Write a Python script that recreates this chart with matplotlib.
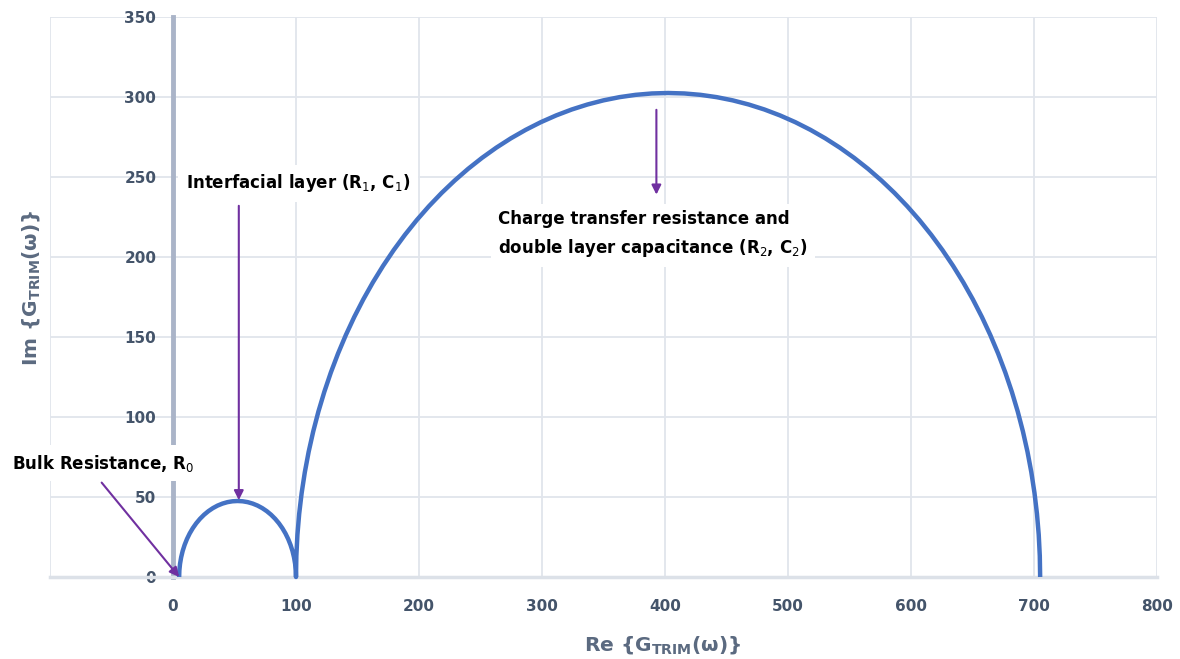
import matplotlib
matplotlib.use("Agg")
import matplotlib.pyplot as plt

# ---- data ----
# small arc (interfacial layer)
arc1_x = [5.0, 5.18, 5.72, 6.62, 7.86, 9.45, 11.36, 13.59, 16.11, 18.91,
          21.97, 25.25, 28.75, 32.43, 36.25, 40.21, 44.25, 48.36, 52.5,
          56.64, 60.75, 64.79, 68.75, 72.57, 76.25, 79.75, 83.03, 86.09,
          88.89, 91.41, 93.64, 95.55, 97.14, 98.38, 99.28, 99.82, 100.0]
arc1_y = [0.0, 4.14, 8.25, 12.29, 16.25, 20.07, 23.75, 27.25, 30.53, 33.59,
          36.39, 38.91, 41.14, 43.05, 44.64, 45.88, 46.78, 47.32, 47.5,
          47.32, 46.78, 45.88, 44.64, 43.05, 41.14, 38.91, 36.39, 33.59,
          30.53, 27.25, 23.75, 20.07, 16.25, 12.29, 8.25, 4.14, 0.0]
# large arc (charge transfer / double layer)
arc2_x = [100.0, 100.29, 101.15, 102.59, 104.60, 107.17, 110.30, 114.00,
          118.24, 123.03, 128.34, 134.18, 140.53, 147.37, 154.71, 162.51,
          170.77, 179.47, 188.60, 198.13, 208.06, 218.35, 228.99, 239.97,
          251.25, 262.82, 274.66, 286.74, 299.04, 311.54, 324.21, 337.03,
          349.97, 363.01, 376.13, 389.30, 402.5,
          415.70, 428.87, 441.99, 455.03, 467.97, 480.79, 493.46, 505.96,
          518.26, 530.34, 542.18, 553.75, 565.03, 576.01, 586.65, 596.94,
          606.87, 616.40, 625.53, 634.23, 642.49, 650.29, 657.63, 664.47,
          670.82, 676.66, 681.97, 686.76, 691.00, 694.70, 697.83, 700.40,
          702.41, 703.85, 704.71, 705.0]
arc2_y = [0.0, 13.20, 26.37, 39.49, 52.53, 65.47, 78.29, 90.96,
          103.46, 115.76, 127.84, 139.68, 151.25, 162.53, 173.51, 184.15,
          194.44, 204.37, 213.90, 223.03, 231.73, 239.99, 247.79, 255.13,
          261.97, 268.32, 274.16, 279.47, 284.26, 288.50, 292.20, 295.33,
          297.90, 299.91, 301.35, 302.21, 302.5,
          302.21, 301.35, 299.91, 297.90, 295.33, 292.20, 288.50, 284.26,
          279.47, 274.16, 268.32, 261.97, 255.13, 247.79, 239.99, 231.73,
          223.03, 213.90, 204.37, 194.44, 184.15, 173.51, 162.53, 151.25,
          139.68, 127.84, 115.76, 103.46, 90.96, 78.29, 65.47, 52.53,
          39.49, 26.37, 13.20, 0.0]

x_ticks = [0, 100, 200, 300, 400, 500, 600, 700, 800]
y_ticks = [0, 50, 100, 150, 200, 250, 300, 350]

labels = ["Bulk Resistance, R$_0$",
          "Interfacial layer (R$_1$, C$_1$)",
          "Charge transfer resistance and\ndouble layer capacitance (R$_2$, C$_2$)"]
label_pos = [(-131, 71), (10.5, 246), (264.5, 214)]
arrow_tail = [(-58, 59), (53.5, 232), (393, 292)]
arrow_tip = [(5, 0), (53.5, 48), (393, 239)]

# ---- style ----
plt.rcParams['font.family'] = ['DejaVu Sans']
plt.rcParams['mathtext.fontset'] = 'dejavusans'

tick_color = '#44546A'
label_color = '#5B6A80'
grid_color = '#E1E5EC'
arrow_color = '#7030A0'

fig = plt.figure(figsize=(11.8, 6.59), dpi=100)
ax = fig.add_axes([50/1180, 1-577/659, (1157-50)/1180, (577-17)/659])

ax.set_xlim(-100, 800)
ax.set_ylim(0, 350)

x_all = arc1_x + arc2_x[1:]
y_all = arc1_y + arc2_y[1:]
ax.plot(x_all, y_all, color='#4472C4', lw=3.2, solid_capstyle='butt',
        solid_joinstyle='round', zorder=3, clip_on=False)

ax.set_xticks([-100] + x_ticks)
ax.set_xticklabels([''] + [str(v) for v in x_ticks])
ax.set_yticks(y_ticks)
ax.grid(True, color=grid_color, lw=1.3, zorder=0)
ax.set_axisbelow(True)

for s in ['top', 'right']:
    ax.spines[s].set_visible(False)
ax.spines['left'].set_position(('data', 0))
ax.spines['left'].set_color('#AAB4C8')
ax.spines['left'].set_linewidth(3.5)
ax.spines['bottom'].set_color('#DCE1E8')
ax.spines['bottom'].set_linewidth(2.5)

ax.tick_params(axis='both', length=0, colors=tick_color, labelsize=11)
ax.tick_params(axis='x', pad=16)
ax.tick_params(axis='y', pad=12)
for t in ax.get_xticklabels() + ax.get_yticklabels():
    t.set_fontweight('bold')

for lab, pos, tail, tip in zip(labels, label_pos, arrow_tail, arrow_tip):
    ax.annotate('', xy=tip, xytext=tail,
                arrowprops=dict(arrowstyle='-|>', color=arrow_color, lw=1.5,
                                mutation_scale=14, shrinkA=0, shrinkB=0),
                annotation_clip=False, zorder=5)
    ax.text(pos[0], pos[1], lab, ha='left', va='center', fontsize=12,
            fontweight='bold', color='black', linespacing=1.6,
            bbox=dict(boxstyle='square,pad=0.45', fc='white', ec='none'),
            zorder=6, clip_on=False)

fig.text(31/1180, 1-288/659, r"Im {G$_{\mathbf{TRIM}}$(ω)}", rotation=90,
         ha='center', va='center', fontsize=14.5, fontweight='bold', color=label_color)
fig.text(663/1180, 1-645/659, r"Re {G$_{\mathbf{TRIM}}$(ω)}",
         ha='center', va='center', fontsize=14.5, fontweight='bold', color=label_color)

fig.savefig('out.png', dpi=100, facecolor='white')
